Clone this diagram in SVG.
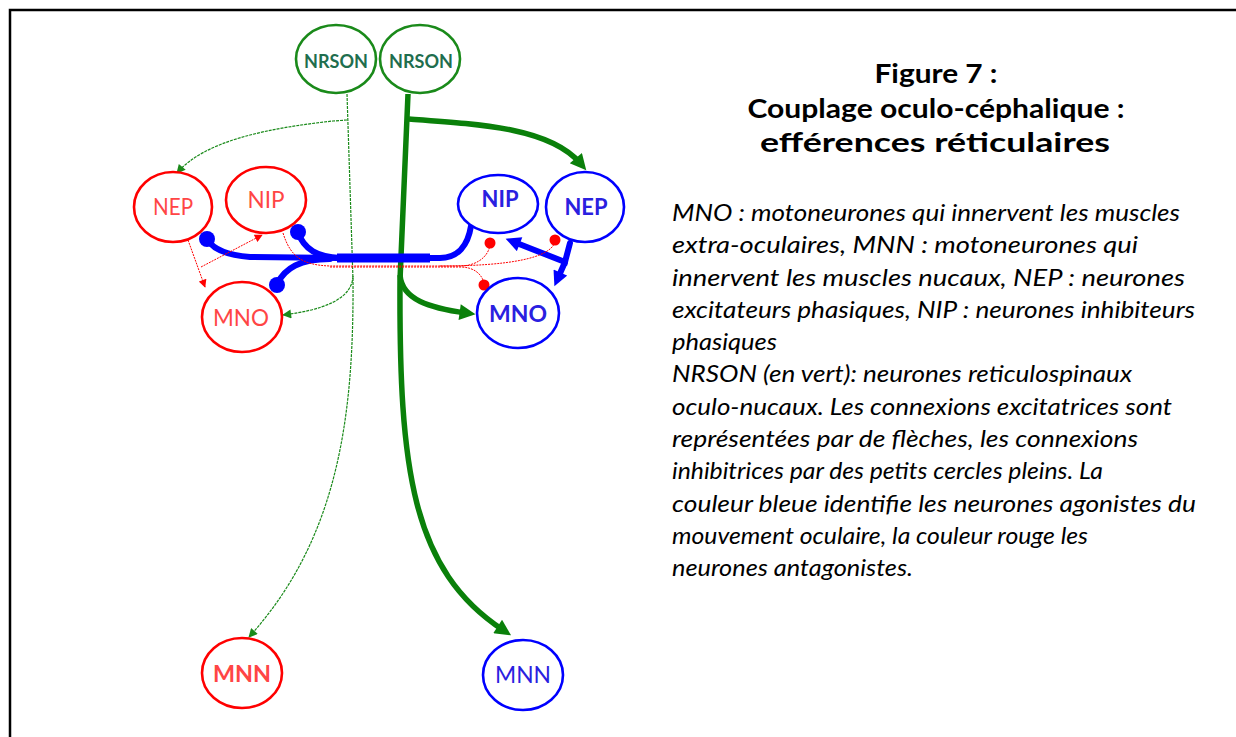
<svg xmlns="http://www.w3.org/2000/svg" width="1236" height="737" viewBox="0 0 1236 737">
<style>
  .nr{fill:#fff;stroke:#ff0000;stroke-width:2.6}
  .nb{fill:#fff;stroke:#0000ff;stroke-width:2.6}
  .ng{fill:#fff;stroke:#1a8a1a;stroke-width:2.6}
  .lbl{font-family:Lato,"Liberation Sans",sans-serif;font-size:23px;text-anchor:middle}
  .lr{fill:#ff4545}
  .lb{fill:#2a20e0}
  .lg{fill:#1f6e4e;font-weight:bold;font-size:18px}
  .b{font-weight:bold}
  .gthin{fill:none;stroke:#1a8a1a;stroke-width:1.2;stroke-dasharray:3 1}
  .gthick{fill:none;stroke:#0a800a;stroke-width:5.5}
  .blue{fill:none;stroke:#0000ff;stroke-width:6;stroke-linecap:round}
  .rthin{fill:none;stroke:#ff0000;stroke-width:1;stroke-dasharray:2 1}
  .dotb{fill:#0000ff}
  .dotr{fill:#ff0000}
  .title{font-family:Lato,"Liberation Sans",sans-serif;font-size:26px;font-weight:bold;text-anchor:middle;fill:#000}
  .body{font-family:Lato,"Liberation Sans",sans-serif;font-size:23px;font-style:italic;fill:#000}
</style>
<defs>
  <marker id="agthin" viewBox="0 0 10 10" refX="9" refY="5" markerUnits="userSpaceOnUse" markerWidth="11" markerHeight="9" orient="auto">
    <path d="M0,0 L10,5 L0,10 z" fill="#1a8a1a"/>
  </marker>
  <marker id="agthick" viewBox="0 0 10 10" refX="4" refY="5" markerUnits="userSpaceOnUse" markerWidth="21" markerHeight="16" orient="auto">
    <path d="M0,0 L10,5 L0,10 z" fill="#0a800a"/>
  </marker>
  <marker id="ab" viewBox="0 0 10 10" refX="4" refY="5" markerUnits="userSpaceOnUse" markerWidth="17" markerHeight="15" orient="auto">
    <path d="M0,0 L10,5 L0,10 z" fill="#0000ff"/>
  </marker>
  <marker id="ar" viewBox="0 0 10 10" refX="9" refY="5" markerUnits="userSpaceOnUse" markerWidth="10" markerHeight="8" orient="auto">
    <path d="M0,0 L10,5 L0,10 z" fill="#ff0000"/>
  </marker>
</defs>
<rect width="1236" height="737" fill="#fff"/>
<path d="M10,738 L10,10 L1237,10" fill="none" stroke="#000" stroke-width="2.5"/>

<g id="connectors">
  <path class="gthin" d="M347,94 L353,280 C354,420 337,540 249,637" marker-end="url(#agthin)"/>
  <path class="gthin" d="M347,120 L333,121 C270,128 205,140 177,173" marker-end="url(#agthin)"/>
  <path class="gthin" d="M353,276 C352,300 322,310 283,315" marker-end="url(#agthin)"/>
  <path class="gthick" d="M408,94 L400,280 C399,470 412,570 503,630" marker-end="url(#agthick)"/>
  <path class="gthick" d="M409,119 C480,124 550,128 580,163" marker-end="url(#agthick)"/>
  <path class="gthick" d="M400,275 C402,300 430,308 466,313" marker-end="url(#agthick)"/>
  <path d="M337,258 L430,258" fill="none" stroke="#0000ff" stroke-width="9"/>
  <path class="blue" d="M425,258 L440,258 C458,258 468,245 471,226"/>
  <path class="blue" d="M340,258 L250,257 C225,255 212,248 207,239"/>
  <path class="blue" d="M340,258 C318,257 304,250 298,232"/>
  <path class="blue" d="M330,259 C300,259 285,268 277,284"/>
  <circle class="dotb" cx="207" cy="239" r="8"/>
  <circle class="dotb" cx="298" cy="232" r="8"/>
  <circle class="dotb" cx="277" cy="285" r="8"/>
  <path class="blue" d="M570,243 L565,262 L514,242" marker-end="url(#ab)"/>
  <path class="blue" d="M565,262 L558,278" marker-end="url(#ab)"/>
  <path class="rthin" d="M188,240 L205,287" marker-end="url(#ar)"/>
  <path class="rthin" d="M201,267 L262,235" marker-end="url(#ar)"/>
  <path class="rthin" d="M283,233 C290,255 300,265 330,266 L460,266 C475,266 488,258 490,245"/>
  <path class="rthin" d="M330,267 L460,267 C475,267 482,275 484,283"/>
  <path class="rthin" d="M440,266 C510,266 550,258 555,242"/>
  <circle class="dotr" cx="490" cy="243" r="5.5"/>
  <circle class="dotr" cx="484" cy="285" r="5.5"/>
  <circle class="dotr" cx="555" cy="240" r="5.5"/>
</g>

<g id="nrson-left"><ellipse class="ng" cx="336" cy="59" rx="40" ry="34"/><text class="lbl lg" x="336" y="68" textLength="64" lengthAdjust="spacingAndGlyphs">NRSON</text></g>
<g id="nrson-right"><ellipse class="ng" cx="420" cy="59" rx="40" ry="34"/><text class="lbl lg" x="421" y="68" textLength="64" lengthAdjust="spacingAndGlyphs">NRSON</text></g>
<g id="nep-red"><ellipse class="nr" cx="173" cy="207" rx="39" ry="35"/><text class="lbl lr" x="173" y="215" textLength="40" lengthAdjust="spacingAndGlyphs">NEP</text></g>
<g id="nip-red"><ellipse class="nr" cx="266" cy="200" rx="40" ry="33"/><text class="lbl lr" x="266" y="208" textLength="37" lengthAdjust="spacingAndGlyphs">NIP</text></g>
<g id="mno-red"><ellipse class="nr" cx="242" cy="317" rx="40" ry="35"/><text class="lbl lr" x="241" y="326" textLength="56" lengthAdjust="spacingAndGlyphs">MNO</text></g>
<g id="nip-blue"><ellipse class="nb" cx="498" cy="204" rx="40" ry="29"/><text class="lbl lb b" x="500" y="207" textLength="37" lengthAdjust="spacingAndGlyphs">NIP</text></g>
<g id="nep-blue"><ellipse class="nb" cx="585" cy="207" rx="39" ry="35"/><text class="lbl lb b" x="586" y="215" textLength="43" lengthAdjust="spacingAndGlyphs">NEP</text></g>
<g id="mno-blue"><ellipse class="nb" cx="518" cy="313" rx="41" ry="35"/><text class="lbl lb b" x="518" y="322" textLength="58" lengthAdjust="spacingAndGlyphs">MNO</text></g>
<g id="mnn-red"><ellipse class="nr" cx="242" cy="673" rx="40" ry="35"/><text class="lbl lr b" x="242" y="682" textLength="58" lengthAdjust="spacingAndGlyphs">MNN</text></g>
<g id="mnn-blue"><ellipse class="nb" cx="523" cy="675" rx="40" ry="35"/><text class="lbl lb" x="523" y="683" textLength="56" lengthAdjust="spacingAndGlyphs">MNN</text></g>

<g id="caption">
  <text class="title" x="936" y="83" textLength="123" lengthAdjust="spacingAndGlyphs">Figure 7 :</text>
  <text class="title" x="936" y="118" textLength="377" lengthAdjust="spacingAndGlyphs">Couplage oculo-céphalique :</text>
  <text class="title" x="935" y="152" textLength="350" lengthAdjust="spacingAndGlyphs">efférences réticulaires</text>
  <text class="body" x="672" y="221" textLength="508" lengthAdjust="spacingAndGlyphs">MNO : motoneurones qui innervent les muscles</text>
  <text class="body" x="672" y="253" textLength="466" lengthAdjust="spacingAndGlyphs">extra-oculaires, MNN : motoneurones qui</text>
  <text class="body" x="672" y="286" textLength="513" lengthAdjust="spacingAndGlyphs">innervent les muscles nucaux, NEP : neurones</text>
  <text class="body" x="672" y="318" textLength="523" lengthAdjust="spacingAndGlyphs">excitateurs phasiques, NIP : neurones inhibiteurs</text>
  <text class="body" x="672" y="350" textLength="105" lengthAdjust="spacingAndGlyphs">phasiques</text>
  <text class="body" x="672" y="382" textLength="460" lengthAdjust="spacingAndGlyphs">NRSON (en vert): neurones reticulospinaux</text>
  <text class="body" x="672" y="415" textLength="500" lengthAdjust="spacingAndGlyphs">oculo-nucaux. Les connexions excitatrices sont</text>
  <text class="body" x="672" y="447" textLength="466" lengthAdjust="spacingAndGlyphs">représentées par de flèches, les connexions</text>
  <text class="body" x="672" y="479" textLength="431" lengthAdjust="spacingAndGlyphs">inhibitrices par des petits cercles pleins. La</text>
  <text class="body" x="672" y="512" textLength="524" lengthAdjust="spacingAndGlyphs">couleur bleue identifie les neurones agonistes du</text>
  <text class="body" x="672" y="544" textLength="416" lengthAdjust="spacingAndGlyphs">mouvement oculaire, la couleur rouge les</text>
  <text class="body" x="672" y="576" textLength="241" lengthAdjust="spacingAndGlyphs">neurones antagonistes.</text>
</g>
</svg>
